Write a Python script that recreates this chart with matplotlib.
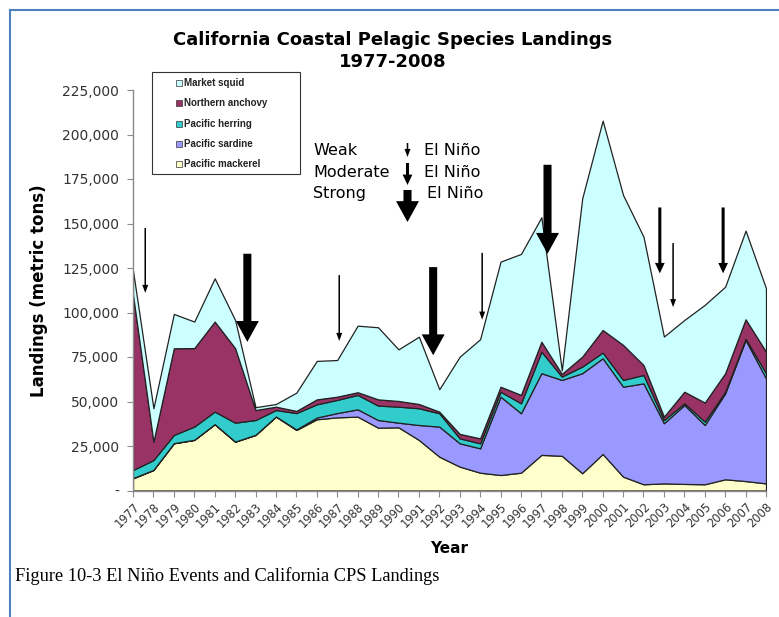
import matplotlib
matplotlib.use("Agg")
import matplotlib.pyplot as plt
from matplotlib.patches import FancyArrowPatch, ArrowStyle, Rectangle
from matplotlib.lines import Line2D
from matplotlib.ticker import FuncFormatter

# ---------------- data (metric tons) ----------------
years = list(range(1977, 2009))
pacific_mackerel = [6800, 11500, 26500, 28400, 37200, 27400, 31200, 41500, 34000, 40000,
                    41100, 41500, 35300, 35500, 28400, 19000, 13400, 10000, 8700, 10000,
                    20000, 19500, 9700, 20500, 7800, 3500, 4000, 3700, 3500, 6300, 5300, 4000]
pacific_sardine = [200, 100, 100, 100, 100, 100, 100, 100, 300, 1000,
                   2400, 4100, 4300, 2600, 8400, 16900, 13100, 13700, 44000, 33400,
                   45900, 42600, 56200, 53800, 50500, 56700, 33800, 44300, 33300, 48300, 79300, 59000]
pacific_herring = [4500, 5500, 4600, 7400, 7000, 10600, 8300, 3600, 9200, 7400,
                   7400, 8100, 8100, 9000, 9400, 7500, 2800, 2800, 2800, 5600,
                   12100, 1900, 3700, 3200, 3800, 4700, 1800, 1000, 1900, 900, 700, 2900]
northern_anchovy = [98500, 10300, 48700, 44100, 50600, 41900, 5600, 1900, 1200, 2800,
                    1800, 1500, 3500, 3200, 2400, 900, 2500, 2800, 2800, 4700,
                    5600, 1500, 5600, 12700, 19700, 5600, 1900, 6500, 10700, 10400, 10900, 12100]
market_squid = [13500, 18800, 19300, 14900, 24300, 15800, 1600, 1500, 10300, 21600,
                20600, 37400, 40500, 29000, 37800, 12600, 43400, 55700, 70300, 79200,
                69900, 2000, 89000, 117600, 84200, 72100, 45000, 40300, 54900, 48600, 49800, 35600]

series_names = ["Pacific mackerel", "Pacific sardine", "Pacific herring",
                "Northern anchovy", "Market squid"]
series_colors = ["#FFFFCC", "#9999FF", "#33CCCC", "#993366", "#CCFFFF"]

y_ticks = [0, 25000, 50000, 75000, 100000, 125000, 150000, 175000, 200000, 225000]

# El Nino events: position (year), strength, arrow start/end (metric tons)
nino_year = [1977.6, 1982.6, 1987.1, 1991.7, 1994.1, 1997.3, 2002.8, 2003.45, 2005.9]
nino_strength = ["weak", "strong", "weak", "strong", "weak", "strong", "moderate", "weak", "moderate"]
nino_top = [147500, 133000, 121000, 125500, 133500, 183000, 159000, 139000, 159000]
nino_tip = [111000, 83500, 84000, 76000, 96000, 133000, 122000, 103000, 122000]

# ---------------- figure ----------------
W, H = 779, 617
fig = plt.figure(figsize=(W / 100, H / 100), dpi=100)
fig.patch.set_facecolor("white")

def fx(px):
    return px / W

def fy(py):
    return 1 - py / H

ax_left, ax_right, ax_top, ax_bottom = 133, 766, 90, 490.5
ax = fig.add_axes([fx(ax_left), fy(ax_bottom), (ax_right - ax_left) / W, (ax_bottom - ax_top) / H])

ax.stackplot(years, pacific_mackerel, pacific_sardine, pacific_herring, northern_anchovy,
             market_squid, colors=series_colors, edgecolor="#222222", linewidth=0.9)

ax.set_xlim(1977, 2008)
ax.set_ylim(0, 225000)
for s in ["top", "right"]:
    ax.spines[s].set_visible(False)
for s in ["left", "bottom"]:
    ax.spines[s].set_color("#8a8a8a")
    ax.spines[s].set_linewidth(1.0)

ax.set_yticks(y_ticks)
ax.yaxis.set_major_formatter(FuncFormatter(lambda v, p: "-" if v == 0 else f"{int(v):,}"))
ax.set_xticks(years)
ax.set_xticklabels([str(y) for y in years], rotation=45, ha="right", rotation_mode="anchor",
                   family="DejaVu Sans", fontsize=8.3, color="#333333")
ax.tick_params(axis="y", direction="out", length=4, color="#8a8a8a", labelsize=10,
               labelcolor="#333333", pad=6)
ax.tick_params(axis="x", direction="out", length=4, color="#8a8a8a", pad=3)
for lab in ax.get_yticklabels():
    lab.set_family("DejaVu Sans")

ax.set_xlabel("Year", family="DejaVu Sans", fontsize=11, fontweight="bold", labelpad=8)
ax.set_ylabel("Landings (metric tons)", family="DejaVu Sans", fontsize=12, fontweight="bold",
              labelpad=10)

styles = {
    "weak": ArrowStyle.Simple(head_length=5.8, head_width=4.3, tail_width=1.1),
    "moderate": ArrowStyle.Simple(head_length=7.5, head_width=7.0, tail_width=2.2),
    "strong": ArrowStyle.Simple(head_length=15, head_width=16.5, tail_width=5.8),
}

for yr, st, top, tip in zip(nino_year, nino_strength, nino_top, nino_tip):
    arr = FancyArrowPatch((yr, top), (yr, tip), arrowstyle=styles[st], mutation_scale=1,
                          color="black", lw=0, shrinkA=0, shrinkB=0, zorder=6,
                          transform=ax.transData, clip_on=False)
    ax.add_patch(arr)

# ---------------- titles ----------------
fig.text(fx(393), fy(40), "California Coastal Pelagic Species Landings", ha="center", va="center",
         family="DejaVu Sans", fontsize=13, fontweight="bold")
fig.text(fx(393), fy(62), "1977-2008", ha="center", va="center",
         family="DejaVu Sans", fontsize=13, fontweight="bold")

# ---------------- El Nino key ----------------
key_rows = [("Weak", 150.5, 143, 157, "weak"),
            ("Moderate", 172.5, 163, 185, "moderate"),
            ("Strong", 193.5, 190, 222, "strong")]
for label, ty, a0, a1, st in key_rows:
    fig.text(fx(313), fy(ty), label, ha="left", va="center", family="DejaVu Sans", fontsize=11.5)
    fig.text(fx(424 if st != "strong" else 427), fy(ty), "El Niño", ha="left", va="center",
             family="DejaVu Sans", fontsize=11.5)
    fig.patches.append(FancyArrowPatch((fx(407.5), fy(a0)), (fx(407.5), fy(a1)),
                                       arrowstyle=styles[st], mutation_scale=1, color="black",
                                       lw=0, shrinkA=0, shrinkB=0, transform=fig.transFigure))

# ---------------- series legend ----------------
fig.patches.append(Rectangle((fx(152), fy(174)), (300 - 152) / W, (174 - 72) / H,
                             transform=fig.transFigure, facecolor="white",
                             edgecolor="#333333", linewidth=0.8, zorder=5))
for i, (name, col) in enumerate(zip(series_names[::-1], series_colors[::-1])):
    yy = 83 + i * 20.3
    fig.patches.append(Rectangle((fx(176), fy(yy + 3)), 6 / W, 6 / H, transform=fig.transFigure,
                                 facecolor=col, edgecolor="#333333", linewidth=0.5, zorder=6))
    fig.text(fx(184), fy(yy), name, ha="left", va="center", family="Liberation Sans",
             fontsize=7, fontweight="bold", color="#222222", zorder=7)

# ---------------- caption & frame ----------------
fig.text(fx(15), fy(576), "Figure 10-3 El Niño Events and California CPS Landings",
         ha="left", va="center", family="Liberation Serif", fontsize=13.2)
fig.add_artist(Line2D([fx(10), fx(779)], [fy(10), fy(10)], transform=fig.transFigure,
                      color="#4F81BD", linewidth=1.5))
fig.add_artist(Line2D([fx(10), fx(10)], [fy(10), fy(617)], transform=fig.transFigure,
                      color="#4F81BD", linewidth=1.5))

fig.savefig("out.png", dpi=100)
